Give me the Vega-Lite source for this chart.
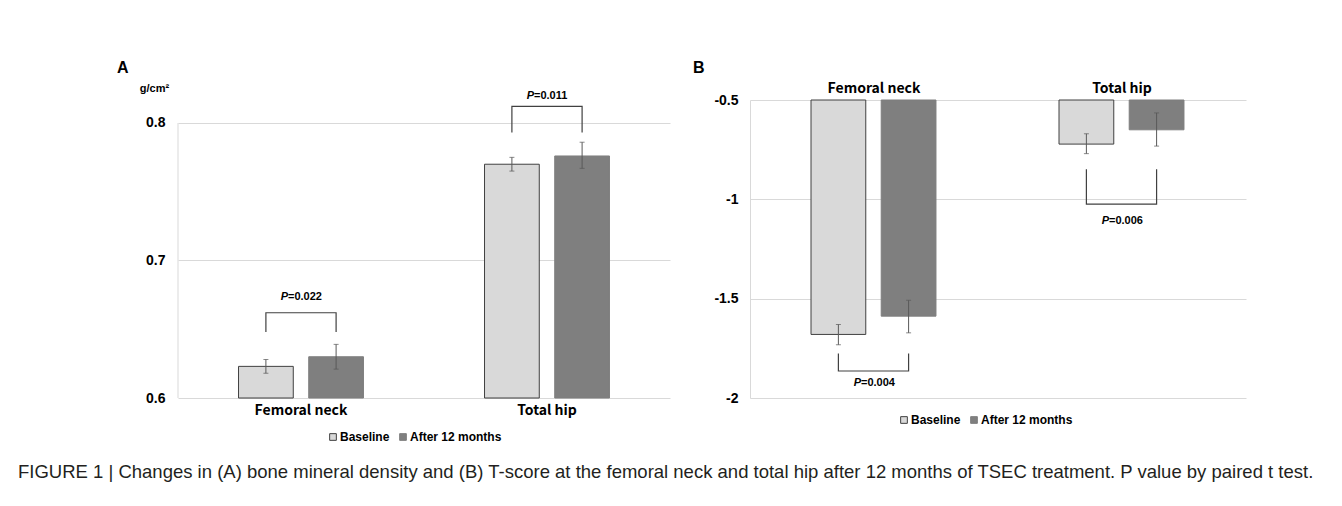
{
  "$schema": "https://vega.github.io/schema/vega-lite/v6.json",
  "autosize": {"type": "none"},
  "padding": {"left": 178, "top": 100, "right": 1164, "bottom": 406},
  "background": "white",
  "config": {
    "font": "Liberation Sans",
    "view": {"stroke": null},
    "legend": {"padding": 0, "symbolType": "square", "symbolSize": 45, "symbolStrokeWidth": 1, "labelFont": "Liberation Sans", "labelFontSize": 12, "labelFontWeight": "bold", "labelColor": "#000000", "columnPadding": 7, "labelOffset": 1}
  },
  "datasets": {
    "barsA": [
      {"site": "Femoral neck", "group": "Baseline", "mean": 0.623, "lo": 0.618, "hi": 0.628},
      {"site": "Femoral neck", "group": "After 12 months", "mean": 0.630, "lo": 0.621, "hi": 0.639},
      {"site": "Total hip", "group": "Baseline", "mean": 0.770, "lo": 0.765, "hi": 0.775},
      {"site": "Total hip", "group": "After 12 months", "mean": 0.776, "lo": 0.767, "hi": 0.786}
    ],
    "brA": [
      {"id": "fn", "ord": 1, "site": "Femoral neck", "group": "Baseline", "v": 0.648},
      {"id": "fn", "ord": 2, "site": "Femoral neck", "group": "Baseline", "v": 0.662},
      {"id": "fn", "ord": 3, "site": "Femoral neck", "group": "After 12 months", "v": 0.662},
      {"id": "fn", "ord": 4, "site": "Femoral neck", "group": "After 12 months", "v": 0.648},
      {"id": "th", "ord": 1, "site": "Total hip", "group": "Baseline", "v": 0.793},
      {"id": "th", "ord": 2, "site": "Total hip", "group": "Baseline", "v": 0.812},
      {"id": "th", "ord": 3, "site": "Total hip", "group": "After 12 months", "v": 0.812},
      {"id": "th", "ord": 4, "site": "Total hip", "group": "After 12 months", "v": 0.793}
    ],
    "pA": [
      {"site": "Femoral neck", "v": 0.6735, "p": "=0.022"},
      {"site": "Total hip", "v": 0.8196, "p": "=0.011"}
    ],
    "barsB": [
      {"site": "Femoral neck", "group": "Baseline", "mean": -1.680, "lo": -1.732, "hi": -1.630},
      {"site": "Femoral neck", "group": "After 12 months", "mean": -1.588, "lo": -1.672, "hi": -1.508},
      {"site": "Total hip", "group": "Baseline", "mean": -0.722, "lo": -0.770, "hi": -0.670},
      {"site": "Total hip", "group": "After 12 months", "mean": -0.650, "lo": -0.732, "hi": -0.565}
    ],
    "brB": [
      {"id": "fn", "ord": 1, "site": "Femoral neck", "group": "Baseline", "v": -1.776},
      {"id": "fn", "ord": 2, "site": "Femoral neck", "group": "Baseline", "v": -1.864},
      {"id": "fn", "ord": 3, "site": "Femoral neck", "group": "After 12 months", "v": -1.864},
      {"id": "fn", "ord": 4, "site": "Femoral neck", "group": "After 12 months", "v": -1.776},
      {"id": "th", "ord": 1, "site": "Total hip", "group": "Baseline", "v": -0.849},
      {"id": "th", "ord": 2, "site": "Total hip", "group": "Baseline", "v": -1.024},
      {"id": "th", "ord": 3, "site": "Total hip", "group": "After 12 months", "v": -1.024},
      {"id": "th", "ord": 4, "site": "Total hip", "group": "After 12 months", "v": -0.849}
    ],
    "pB": [
      {"site": "Femoral neck", "v": -1.924, "p": "=0.004"},
      {"site": "Total hip", "v": -1.110, "p": "=0.006"}
    ]
  },
  "title": {
    "text": "FIGURE 1 | Changes in (A) bone mineral density and (B) T-score at the femoral neck and total hip after 12 months of TSEC treatment. P value by paired t test.",
    "orient": "bottom", "anchor": "start", "frame": "group", "dx": -160, "offset": 20,
    "font": "Liberation Sans", "fontSize": 18.5, "fontWeight": "normal", "color": "#231f20"
  },
  "bounds": "flush",
  "spacing": 80,
  "resolve": {"scale": {"fill": "independent", "stroke": "independent"}, "legend": {"fill": "independent", "stroke": "independent"}},
  "hconcat": [
    {
      "width": 492,
      "height": 298,
      "title": {"text": "A", "anchor": "start", "frame": "group", "dx": -61, "offset": 6, "font": "Liberation Sans", "fontSize": 16, "fontWeight": "bold", "color": "#000000"},
      "layer": [
        {
          "data": {"values": [{}]},
          "mark": {"type": "rule", "color": "#d9d9d9", "strokeWidth": 1},
          "encoding": {"x": {"value": 0}, "y": {"datum": 0.6, "type": "quantitative"}, "y2": {"datum": 0.8}}
        },
        {
          "data": {"name": "barsA"},
          "mark": {"type": "bar", "strokeWidth": 1},
          "encoding": {
            "x": {"field": "site", "type": "nominal", "sort": ["Femoral neck", "Total hip"], "scale": {"paddingInner": 0.492, "paddingOuter": 0.246},
              "axis": {"title": null, "orient": "bottom", "labelAngle": 0, "labelFont": "Noto Sans CJK KR", "labelFontSize": 14, "labelFontWeight": "bold", "labelColor": "#000000", "domain": false, "ticks": false, "labelPadding": 5}},
            "xOffset": {"field": "group", "type": "nominal", "sort": ["Baseline", "After 12 months"], "scale": {"paddingInner": 0.22, "paddingOuter": 0}},
            "y": {"field": "mean", "type": "quantitative", "scale": {"domain": [0.6, 0.8167], "nice": false, "zero": false},
              "axis": {"title": "g/cm²", "titleAngle": 0, "titleX": -24, "titleY": -12, "titleAlign": "center", "titleBaseline": "middle", "titleFontSize": 11, "titleFontWeight": "bold", "titleColor": "#000000",
                "values": [0.6, 0.7, 0.8], "format": ".1f", "labelFontSize": 14, "labelFontWeight": "bold", "labelColor": "#000000", "labelPadding": 13, "ticks": false, "domain": false, "grid": true, "gridColor": "#d9d9d9", "gridWidth": 1}},
            "y2": {"datum": 0.6},
            "fill": {"field": "group", "type": "nominal", "scale": {"domain": ["Baseline", "After 12 months"], "range": ["#d9d9d9", "#7f7f7f"]},
              "legend": {"title": null, "orient": "none", "direction": "horizontal", "legendX": 149, "legendY": 331}},
            "stroke": {"field": "group", "type": "nominal", "scale": {"domain": ["Baseline", "After 12 months"], "range": ["#404040", "#7f7f7f"]},
              "legend": {"title": null, "orient": "none", "direction": "horizontal", "legendX": 149, "legendY": 331}}
          }
        },
        {
          "data": {"name": "barsA"},
          "mark": {"type": "rule", "color": "#595959", "strokeWidth": 1},
          "encoding": {
            "x": {"field": "site", "type": "nominal", "sort": ["Femoral neck", "Total hip"]},
            "xOffset": {"field": "group", "type": "nominal", "sort": ["Baseline", "After 12 months"]},
            "y": {"field": "lo", "type": "quantitative"},
            "y2": {"field": "hi"}
          }
        },
        {
          "data": {"name": "barsA"},
          "mark": {"type": "tick", "color": "#595959", "size": 5, "thickness": 1},
          "encoding": {
            "x": {"field": "site", "type": "nominal", "sort": ["Femoral neck", "Total hip"]},
            "xOffset": {"field": "group", "type": "nominal", "sort": ["Baseline", "After 12 months"]},
            "y": {"field": "lo", "type": "quantitative"}
          }
        },
        {
          "data": {"name": "barsA"},
          "mark": {"type": "tick", "color": "#595959", "size": 5, "thickness": 1},
          "encoding": {
            "x": {"field": "site", "type": "nominal", "sort": ["Femoral neck", "Total hip"]},
            "xOffset": {"field": "group", "type": "nominal", "sort": ["Baseline", "After 12 months"]},
            "y": {"field": "hi", "type": "quantitative"}
          }
        },
        {
          "data": {"name": "brA"},
          "mark": {"type": "line", "color": "#404040", "strokeWidth": 1.2, "clip": false},
          "encoding": {
            "x": {"field": "site", "type": "nominal", "sort": ["Femoral neck", "Total hip"]},
            "xOffset": {"field": "group", "type": "nominal", "sort": ["Baseline", "After 12 months"]},
            "y": {"field": "v", "type": "quantitative"},
            "detail": {"field": "id"},
            "order": {"field": "ord", "type": "quantitative"}
          }
        },
        {
          "data": {"name": "pA"},
          "mark": {"type": "text", "align": "right", "baseline": "middle", "dx": -13, "fontSize": 11, "fontWeight": "bold", "fontStyle": "italic", "color": "#000000"},
          "encoding": {
            "x": {"field": "site", "type": "nominal", "sort": ["Femoral neck", "Total hip"]},
            "y": {"field": "v", "type": "quantitative"},
            "text": {"value": "P"}
          }
        },
        {
          "data": {"name": "pA"},
          "mark": {"type": "text", "align": "left", "baseline": "middle", "dx": -13, "fontSize": 11, "fontWeight": "bold", "color": "#000000"},
          "encoding": {
            "x": {"field": "site", "type": "nominal", "sort": ["Femoral neck", "Total hip"]},
            "y": {"field": "v", "type": "quantitative"},
            "text": {"field": "p"}
          }
        }
      ]
    },
    {
      "width": 496,
      "height": 298,
      "title": {"text": "B", "anchor": "start", "frame": "group", "dx": -57, "offset": 5, "font": "Liberation Sans", "fontSize": 16, "fontWeight": "bold", "color": "#000000"},
      "layer": [
        {
          "data": {"name": "barsB"},
          "mark": {"type": "bar", "strokeWidth": 1},
          "encoding": {
            "x": {"field": "site", "type": "nominal", "sort": ["Femoral neck", "Total hip"], "scale": {"paddingInner": 0.492, "paddingOuter": 0.246},
              "axis": {"title": null, "orient": "top", "labelAngle": 0, "labelFont": "Noto Sans CJK KR", "labelFontSize": 14, "labelFontWeight": "bold", "labelColor": "#000000", "domain": false, "ticks": false, "labelPadding": 5}},
            "xOffset": {"field": "group", "type": "nominal", "sort": ["Baseline", "After 12 months"], "scale": {"paddingInner": 0.22, "paddingOuter": 0}},
            "y": {"field": "mean", "type": "quantitative", "scale": {"domain": [-2, -0.5], "nice": false, "zero": false},
              "axis": {"title": null, "values": [-2, -1.5, -1, -0.5], "labelExpr": "'' + datum.value", "labelFontSize": 14, "labelFontWeight": "bold", "labelColor": "#000000", "labelPadding": 12, "ticks": false, "domain": true, "domainColor": "#d9d9d9", "grid": true, "gridColor": "#d9d9d9", "gridWidth": 1}},
            "y2": {"datum": -0.5},
            "fill": {"field": "group", "type": "nominal", "scale": {"domain": ["Baseline", "After 12 months"], "range": ["#d9d9d9", "#7f7f7f"]},
              "legend": {"title": null, "orient": "none", "direction": "horizontal", "legendX": 148, "legendY": 314}},
            "stroke": {"field": "group", "type": "nominal", "scale": {"domain": ["Baseline", "After 12 months"], "range": ["#404040", "#7f7f7f"]},
              "legend": {"title": null, "orient": "none", "direction": "horizontal", "legendX": 148, "legendY": 314}}
          }
        },
        {
          "data": {"name": "barsB"},
          "mark": {"type": "rule", "color": "#595959", "strokeWidth": 1},
          "encoding": {
            "x": {"field": "site", "type": "nominal", "sort": ["Femoral neck", "Total hip"]},
            "xOffset": {"field": "group", "type": "nominal", "sort": ["Baseline", "After 12 months"]},
            "y": {"field": "lo", "type": "quantitative"},
            "y2": {"field": "hi"}
          }
        },
        {
          "data": {"name": "barsB"},
          "mark": {"type": "tick", "color": "#595959", "size": 5, "thickness": 1},
          "encoding": {
            "x": {"field": "site", "type": "nominal", "sort": ["Femoral neck", "Total hip"]},
            "xOffset": {"field": "group", "type": "nominal", "sort": ["Baseline", "After 12 months"]},
            "y": {"field": "lo", "type": "quantitative"}
          }
        },
        {
          "data": {"name": "barsB"},
          "mark": {"type": "tick", "color": "#595959", "size": 5, "thickness": 1},
          "encoding": {
            "x": {"field": "site", "type": "nominal", "sort": ["Femoral neck", "Total hip"]},
            "xOffset": {"field": "group", "type": "nominal", "sort": ["Baseline", "After 12 months"]},
            "y": {"field": "hi", "type": "quantitative"}
          }
        },
        {
          "data": {"name": "brB"},
          "mark": {"type": "line", "color": "#404040", "strokeWidth": 1.2, "clip": false},
          "encoding": {
            "x": {"field": "site", "type": "nominal", "sort": ["Femoral neck", "Total hip"]},
            "xOffset": {"field": "group", "type": "nominal", "sort": ["Baseline", "After 12 months"]},
            "y": {"field": "v", "type": "quantitative"},
            "detail": {"field": "id"},
            "order": {"field": "ord", "type": "quantitative"}
          }
        },
        {
          "data": {"name": "pB"},
          "mark": {"type": "text", "align": "right", "baseline": "middle", "dx": -13, "fontSize": 11, "fontWeight": "bold", "fontStyle": "italic", "color": "#000000"},
          "encoding": {
            "x": {"field": "site", "type": "nominal", "sort": ["Femoral neck", "Total hip"]},
            "y": {"field": "v", "type": "quantitative"},
            "text": {"value": "P"}
          }
        },
        {
          "data": {"name": "pB"},
          "mark": {"type": "text", "align": "left", "baseline": "middle", "dx": -13, "fontSize": 11, "fontWeight": "bold", "color": "#000000"},
          "encoding": {
            "x": {"field": "site", "type": "nominal", "sort": ["Femoral neck", "Total hip"]},
            "y": {"field": "v", "type": "quantitative"},
            "text": {"field": "p"}
          }
        }
      ]
    }
  ]
}
